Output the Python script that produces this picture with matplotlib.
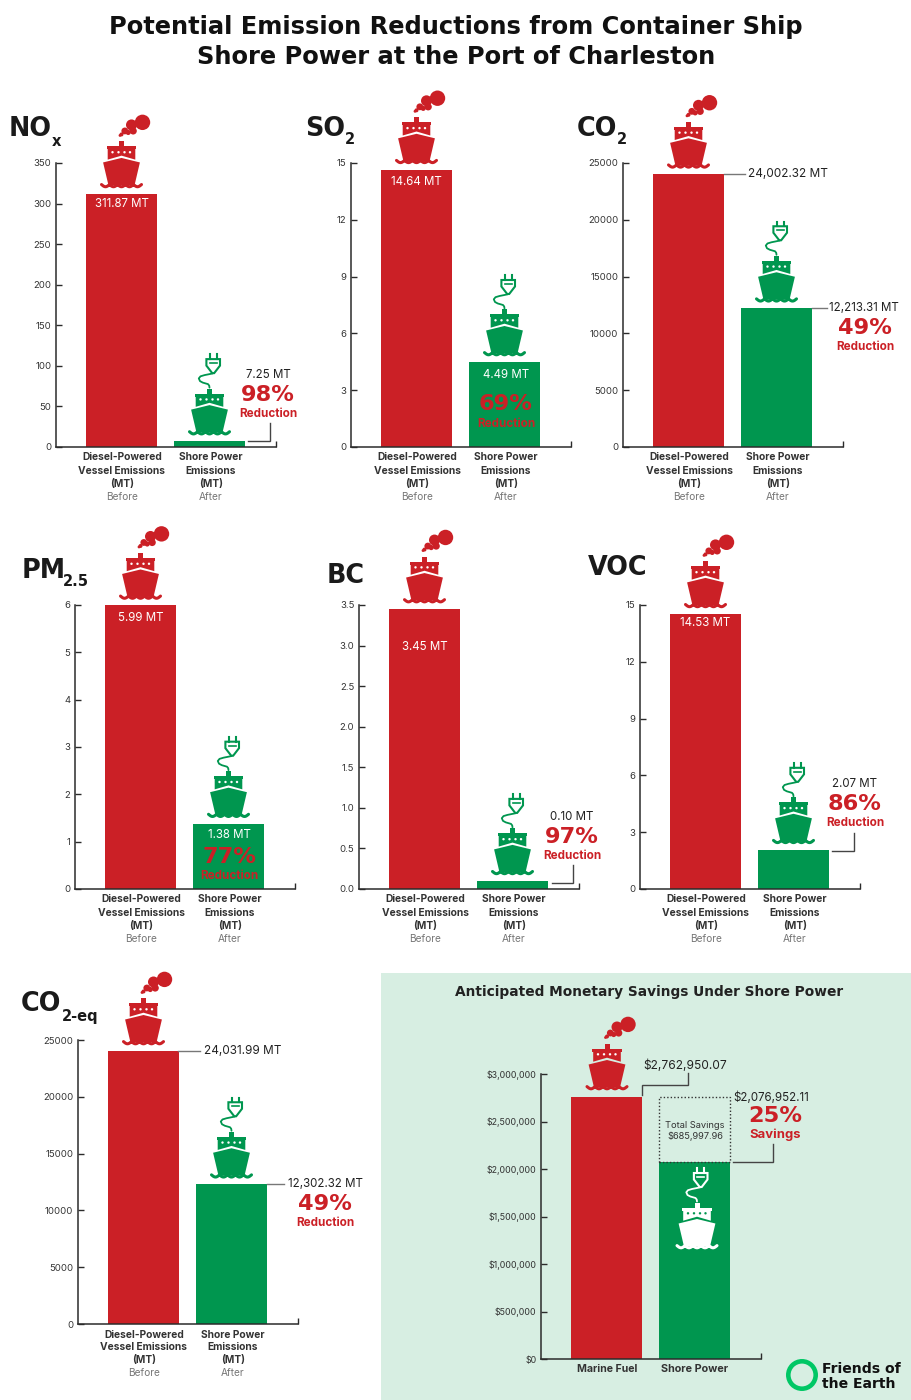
import numpy as np
import matplotlib
matplotlib.use("Agg")
import matplotlib.pyplot as plt
from matplotlib.patches import Circle, Polygon, Rectangle

plt.rcParams['font.family'] = ['Inter', 'DejaVu Sans']

RED = '#cb2026'
GREEN = '#00964f'
DARK = '#2b2b2b'
HEAVY = 'DejaVu Sans'
W, H = 911, 1400

# values
categories = ['Before', 'After']
nox = [311.87, 7.25]
so2 = [14.64, 4.49]
co2 = [24002.32, 12213.31]
pm25 = [5.99, 1.38]
bc = [3.45, 0.10]
voc = [14.53, 2.07]
co2eq = [24031.99, 12302.32]
money = [2762950.07, 2076952.11]
savings = 685997.96

nox_ticks = [0, 50, 100, 150, 200, 250, 300, 350]
so2_ticks = [0, 3, 6, 9, 12, 15]
co2_ticks = [0, 5000, 10000, 15000, 20000, 25000]
pm25_ticks = [0, 1, 2, 3, 4, 5, 6]
bc_ticks = [0, 0.5, 1.0, 1.5, 2.0, 2.5, 3.0, 3.5]
bc_labels = ['0.0', '0.5', '1.0', '1.5', '2.0', '2.5', '3.0', '3.5']
voc_ticks = [0, 3, 6, 9, 12, 15]
money_ticks = [0, 500000, 1000000, 1500000, 2000000, 2500000, 3000000]
money_labels = ['$0', '$500,000', '$1,000,000', '$1,500,000', '$2,000,000', '$2,500,000', '$3,000,000']

fig = plt.figure(figsize=(W / 100, H / 100), dpi=100, facecolor='white')

bg = fig.add_axes([0, 0, 1, 1], zorder=0)
bg.set_xlim(0, W)
bg.set_ylim(H, 0)
bg.axis('off')
bg.add_patch(Rectangle((381, 973), 530, 427, color='#d7eee2', lw=0))

ov = fig.add_axes([0, 0, 1, 1], zorder=5)
ov.set_xlim(0, W)
ov.set_ylim(H, 0)
ov.axis('off')
ov.patch.set_alpha(0)


def txt(x, y, s, size=8, color=DARK, weight='normal', ha='center', family=None):
    ov.text(x, y, s, fontsize=size, color=color, fontweight=weight, ha=ha, va='center', family=family)


def leader(xs, ys, color='#444444'):
    ov.plot(xs, ys, color=color, lw=1.0, solid_joinstyle='miter')


def draw_ship(cx, base, color, back='white', smoke=False, plug=False):
    # icon is drawn relative to centre and the bottom of the waves
    def poly(pts):
        pts = np.array(pts, dtype=float)
        ov.add_patch(Polygon(np.c_[cx + pts[:, 0], base - pts[:, 1]], closed=True, fc=color, ec='none'))

    # hull
    poly([(-18.4, 25.5), (0, 30), (18.4, 25.5), (13, 2.5), (-13, 2.5)])
    # cabin, top band, chimney
    poly([(-13.8, 28.3), (0, 32.3), (13.8, 28.3), (13.8, 39), (-13.8, 39)])
    poly([(-14.7, 38.5), (14.7, 38.5), (14.7, 41.5), (-14.7, 41.5)])
    poly([(-2.5, 41), (2.5, 41), (2.5, 46.5), (-2.5, 46.5)])
    for dx in (-9, -3, 3, 8.5):
        ov.add_patch(Circle((cx + dx, base - 35.7), 1.2, fc=back, ec='none'))
    dx = np.linspace(-20, 20, 160)
    ov.plot(cx + dx, base - 1.2 - 2.2 * (1 - np.abs(np.sin(np.pi * (dx + 20) / 8))),
            color=color, lw=2.2, solid_capstyle='round')
    if smoke:
        for dx_, h_, r_ in [(21, 65.6, 7.7), (10, 63, 5.5), (11.7, 57, 3.6), (6.7, 55.5, 2.6),
                            (3.3, 57, 3.4), (0, 53.5, 2), (-1.5, 52.5, 1.4)]:
            ov.add_patch(Circle((cx + dx_, base - h_), r_, fc=color, ec='none'))
    if plug:
        px = cx + 3.7
        ov.plot([px - 3.6, px - 3.6], [base - 80.7, base - 76], color=color, lw=1.5)
        ov.plot([px + 3.6, px + 3.6], [base - 80.7, base - 76], color=color, lw=1.5)
        ov.add_patch(Polygon([(px - 6.8, base - 76), (px + 6.8, base - 76), (px + 6.8, base - 69.5),
                              (px + 1, base - 62), (px - 1, base - 62), (px - 6.8, base - 69.5)],
                             closed=True, fc=back, ec=color, lw=1.5))
        ov.plot([px - 3.6, px + 3.6], [base - 72, base - 72], color=color, lw=1.2)
        ov.plot([cx + 3.3, cx - 1, cx - 5, cx - 9, cx - 10.7, cx - 9.5, cx - 6.7, cx - 1.5, cx - 0.3, cx],
                [base - 61.7, base - 60.8, base - 60, base - 58.8, base - 56.7, base - 54,
                 base - 52.5, base - 51, base - 49.5, base - 47.5],
                color=color, lw=1.3, solid_capstyle='round')


def panel(values, ticks, ticklabels, left, y0, top, ymax, xlabels=True):
    ax = fig.add_axes([(left - 0.5) / W, 1 - y0 / H, 220 / W, (y0 - top) / H], zorder=2)
    ax.patch.set_alpha(0)
    ax.bar([0, 1], values, width=0.8, color=[RED, GREEN], lw=0)
    ax.set_xlim(-0.75, 1.75)
    ax.set_ylim(0, ymax)
    ax.set_yticks(ticks)
    ax.set_yticklabels(ticklabels, fontsize=6.9, color='#333333')
    ax.set_xticks([1.75])
    ax.set_xticklabels([''])
    ax.tick_params(axis='both', direction='in', length=4.2, width=1.0, color=DARK, pad=3)
    ax.spines['top'].set_visible(False)
    ax.spines['right'].set_visible(False)
    for s in ('left', 'bottom'):
        ax.spines[s].set_linewidth(1.1)
        ax.spines[s].set_color(DARK)

    cx0 = left + 65.5
    cx1 = cx0 + 88
    t0 = y0 - values[0] / ymax * (y0 - top)
    t1 = y0 - values[1] / ymax * (y0 - top)
    if xlabels:
        draw_ship(cx0, t0 - 6, RED, smoke=True)
        draw_ship(cx1, t1 - 6, GREEN, plug=True)
        for i, s in enumerate(['Diesel-Powered', 'Vessel Emissions', '(MT)']):
            txt(cx0 + 0.5, y0 + 10.5 + 13 * i, s, 7.35, '#333333', 'bold')
        for i, s in enumerate(['Shore Power', 'Emissions', '(MT)']):
            txt(cx1 + 1.5, y0 + 10.5 + 13 * i, s, 7.35, '#333333', 'bold')
        txt(cx0 + 0.5, y0 + 49.5, categories[0], 7.3, '#777777')
        txt(cx1 + 1.5, y0 + 49.5, categories[1], 7.3, '#777777')
    return ax


def big_label(x, y, main, sub, sub_x, sub_dy=10):
    txt(x, y + 2, main, 18.4, '#1a1a1a', 'bold', ha='left', family=HEAVY)
    txt(sub_x, y + sub_dy, sub, 10.5, '#1a1a1a', 'bold', ha='left', family=HEAVY)


def percent(x, y, pct):
    txt(x, y, pct, 16.2, RED, 'bold', family=HEAVY)


def reduction(x, y_mt, mt, pct, word='Reduction', mt_ha='center', mt_x=None):
    txt(x if mt_x is None else mt_x, y_mt, mt, 8.3, '#222222', 'normal', ha=mt_ha)
    percent(x, y_mt + 20, pct)
    txt(x, y_mt + 39, word, 8.4, RED, 'bold')


# title
txt(456, 27, 'Potential Emission Reductions from Container Ship', 17.4, '#111111', 'bold', family=HEAVY)
txt(456, 57, 'Shore Power at the Port of Charleston', 17.4, '#111111', 'bold', family=HEAVY)

# NOx
panel(nox, nox_ticks, nox_ticks, 56, 447, 163, 350)
big_label(9, 127, 'NO', 'x', 52, 14)
txt(122, 204, '311.87 MT', 8.3, 'white')
reduction(268, 375, '7.25 MT', '98%')
leader([248, 270, 270], [441, 441, 423])

# SO2
panel(so2, so2_ticks, so2_ticks, 351, 447, 163, 15)
big_label(305, 127, 'SO', '2', 345, 12)
txt(416, 182, '14.64 MT', 8.3, 'white')
txt(506, 375, '4.49 MT', 8.3, 'white')
percent(506, 404, '69%')
txt(506, 424, 'Reduction', 8.4, RED, 'bold')

# CO2
panel(co2, co2_ticks, co2_ticks, 623, 447, 163, 25000)
big_label(577, 127, 'CO', '2', 617, 12)
reduction(865, 308, '12,213.31 MT', '49%', mt_ha='left', mt_x=829)
txt(748, 174, '24,002.32 MT', 8.5, '#222222', ha='left')
leader([724, 745], [174, 174], '#777777')
leader([812, 827], [308, 308], '#777777')

# PM2.5
panel(pm25, pm25_ticks, pm25_ticks, 75, 889, 605, 6)
big_label(22, 569, 'PM', '2.5', 63, 12)
txt(141, 618, '5.99 MT', 8.3, 'white')
txt(229, 835, '1.38 MT', 8.3, 'white')
percent(229, 857, '77%')
txt(229, 876, 'Reduction', 8.4, RED, 'bold')

# BC
panel(bc, bc_ticks, bc_labels, 359, 889, 605, 3.5)
big_label(327, 574, 'BC', '', 360)
txt(425, 647, '3.45 MT', 8.3, 'white')
reduction(572, 817, '0.10 MT', '97%')
leader([552, 573, 573], [883, 883, 865])

# VOC
panel(voc, voc_ticks, voc_ticks, 640, 889, 605, 15)
big_label(588, 566, 'VOC', '', 640)
txt(705, 623, '14.53 MT', 8.3, 'white')
reduction(855, 784, '2.07 MT', '86%')
leader([832, 854, 854], [851, 851, 833])

# CO2-eq
panel(co2eq, co2_ticks, co2_ticks, 78, 1324, 1040, 25000)
big_label(21, 1002, 'CO', '2-eq', 62, 14)
txt(204, 1051, '24,031.99 MT', 8.5, '#222222', ha='left')
reduction(325, 1184, '12,302.32 MT', '49%', mt_ha='left', mt_x=288)
leader([178, 200], [1051, 1051], '#777777')
leader([267, 284], [1184, 1184], '#777777')

# money panel
ax = panel(money, money_ticks, money_labels, 541, 1359, 1074, 3000000, xlabels=False)
ax.bar([1], [savings], bottom=[money[1]], width=0.8, fc='none', ec='#333333', lw=1.0, ls=(0, (1, 1.5)))
ax.tick_params(axis='y', labelsize=6.4)
txt(649, 992, 'Anticipated Monetary Savings Under Shore Power', 9.9, '#222222', 'bold', family=HEAVY)
draw_ship(607, 1090, RED, back='white', smoke=True)
draw_ship(697, 1249, 'white', back=GREEN, plug=True)
txt(607, 1369, 'Marine Fuel', 7.6, '#333333', 'bold')
txt(695, 1369, 'Shore Power', 7.8, '#333333', 'bold')
txt(685, 1065.5, '$2,762,950.07', 8.6, '#222222')
leader([642, 642, 688, 688], [1095, 1085, 1085, 1073])
txt(771, 1098, '$2,076,952.11', 8.3, '#222222')
percent(775, 1116, '25%')
txt(775, 1135, 'Savings', 9.4, RED, 'bold')
leader([733, 773, 773], [1162, 1162, 1144])
txt(695, 1125, 'Total Savings', 6.7, '#333333')
txt(695, 1136, '$685,997.96', 6.7, '#333333')

# logo
ov.add_patch(Circle((802, 1375), 13.7, fc='none', ec='#00c765', lw=3.3))
txt(822, 1369, 'Friends of', 10.1, '#111111', 'bold', ha='left', family=HEAVY)
txt(822, 1384, 'the Earth', 10.1, '#111111', 'bold', ha='left', family=HEAVY)

fig.savefig('out.png', dpi=100)
